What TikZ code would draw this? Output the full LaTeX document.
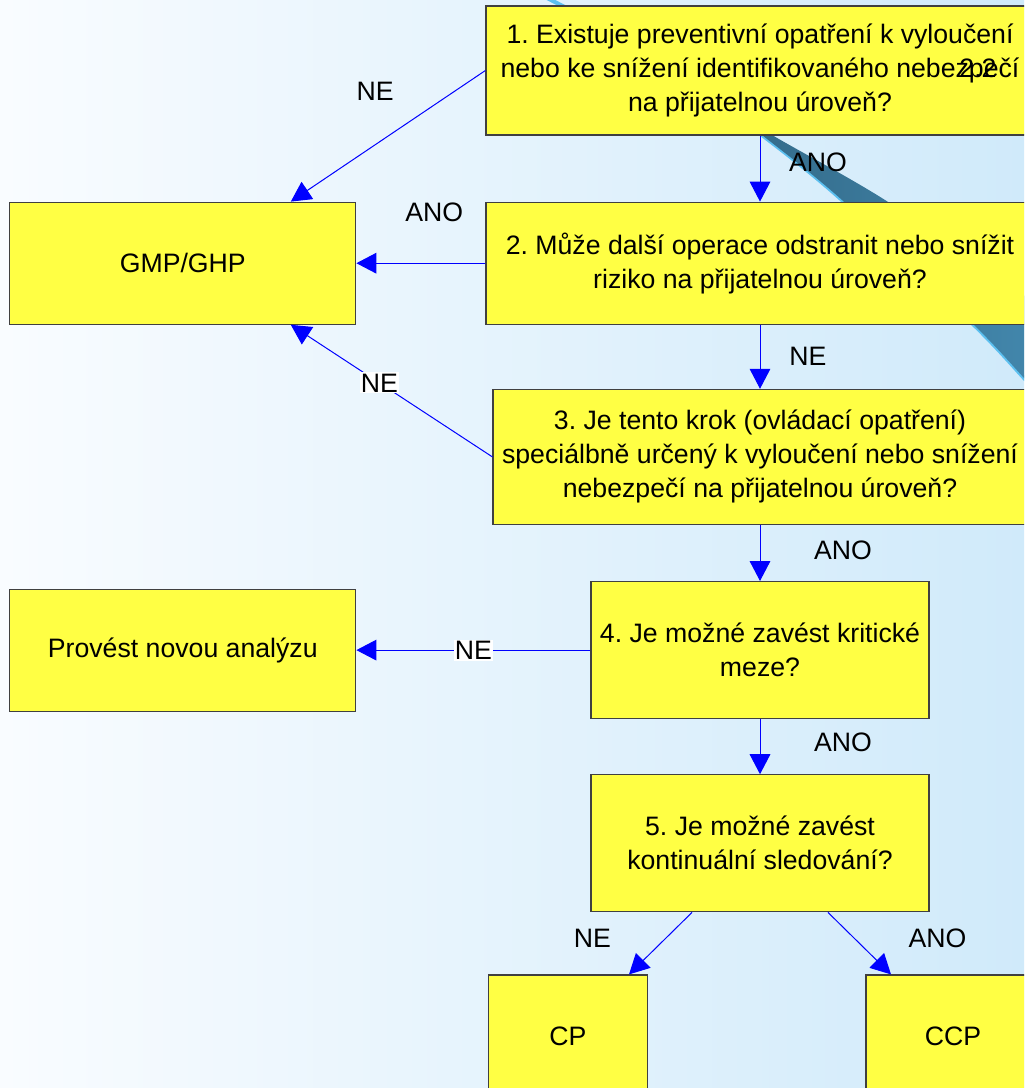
\documentclass[tikz,border=0pt]{standalone}
\usepackage{fontspec}
\setmainfont{Liberation Sans}
\usepackage{xcolor}
\usetikzlibrary{shapes,arrows.meta,calc,positioning}
\frenchspacing
\definecolor{boxyellow}{RGB}{255,255,68}
\definecolor{bgleft}{RGB}{249,252,255}
\definecolor{bgmid}{RGB}{236,245,253}
\definecolor{bgright}{RGB}{208,234,250}
\definecolor{swooshdark}{RGB}{50,104,134}
\definecolor{swooshlight}{RGB}{68,138,176}
\definecolor{swooshedge}{RGB}{92,192,240}
\tikzstyle{block} = [rectangle, draw=black!75, line width=0.9pt, fill=boxyellow, align=center, inner sep=0pt, font=\fontsize{20}{25.5}\selectfont]
\tikzstyle{line} = [draw=blue, line width=0.75pt, -{Triangle[length=15pt,width=15.5pt]}]
\tikzstyle{answer} = [font=\fontsize{20}{25.5}\selectfont, inner sep=1pt]

\begin{document}
\begin{tikzpicture}[x=0.75pt, y=-0.75pt]
		% Background
		\useasboundingbox (0,0) rectangle (1024,1088);
		\clip (0,0) rectangle (1024,1088);
		\shade [left color=bgleft, middle color=bgmid, right color=bgright] (0,0) rectangle (1024,1088);
		\draw [swooshedge, line width=3pt] plot [smooth] coordinates {(520,-12) (551,0) (660,60) (762,135) (842,200) (972,323) (1024,378) (1070,430)};
		\shade [left color=swooshdark, right color=swooshlight] plot [smooth] coordinates {(712,97) (762,135) (842,200) (972,323) (1024,378) (1070,430)} -- plot [smooth] coordinates {(1070,330) (1024,295) (885,200) (772,135) (712,97)} -- cycle;
		
		% Place nodes
		\node [block, minimum width=411pt, minimum height=96.75pt] (q1) at (760,70.5) {1. Existuje preventivní opatření k vyloučení\\nebo ke snížení identifikovaného nebezpečí\\na přijatelnou úroveň?};
		\node [block, minimum width=411pt, minimum height=91.5pt, below=49.5pt of q1] (q2) {2. Může další operace odstranit nebo snížit\\riziko na přijatelnou úroveň?};
		\node [block, minimum width=400.5pt, minimum height=101.25pt, below=48pt of q2] (q3) {3. Je tento krok (ovládací opatření)\\speciálbně určený k vyloučení nebo snížení\\nebezpečí na přijatelnou úroveň?};
		\node [block, minimum width=253.5pt, minimum height=102.75pt, below=42pt of q3] (q4) {4. Je možné zavést kritické\\meze?};
		\node [block, minimum width=253.5pt, minimum height=102.75pt, below=41.25pt of q4] (q5) {5. Je možné zavést\\kontinuální sledování?};
		\node [block, minimum width=259.5pt, minimum height=91.5pt, left=96.75pt of q2] (gmp) {GMP/GHP};
		\node [block, minimum width=259.5pt, minimum height=91.5pt, left=175.5pt of q4] (novou) {Provést novou analýzu};
		\node [block, minimum width=119.25pt, minimum height=91.5pt, below=46.5pt of q5, xshift=-144pt] (cp) {CP};
		\node [block, minimum width=130.5pt, minimum height=91.5pt, below=46.5pt of q5, xshift=144.75pt] (ccp) {CCP};
		\node [answer] (slide) at (978,68) {2.2};
		
		% Draw edges
		\path [line] (q1) -- node [answer, xshift=43.5pt, yshift=4.5pt] {ANO} (q2);
		\path [line] (q2) -- node [answer, xshift=36pt] {NE} (q3);
		\path [line] (q3) -- node [answer, xshift=62.25pt, yshift=2.25pt] {ANO} (q4);
		\path [line] (q4) -- node [answer, xshift=62.25pt, yshift=3.4pt] {ANO} (q5);
		
		\path [line] (q1.west) -- node [answer, xshift=-9.75pt, yshift=33.75pt] {NE} ([xshift=81pt]gmp.north);
		\path [line] (q2) -- node [answer, xshift=10pt, yshift=38.25pt] {ANO} (gmp);
		\path [line] (q3.west) -- node [answer, fill=white, pos=0.56] {NE} ([xshift=81pt]gmp.south);
		\path [line] (q4) -- node [answer, fill=white] {NE} (novou);
		
		\path [line] ([xshift=-51pt]q5.south) -- node [answer, xshift=-51pt, yshift=3.75pt] {NE} ([xshift=45.75pt]cp.north);
		\path [line] ([xshift=51pt]q5.south) -- node [answer, xshift=58.5pt, yshift=3.75pt] {ANO} ([xshift=-46.5pt]ccp.north);
	\end{tikzpicture}
\end{document}
